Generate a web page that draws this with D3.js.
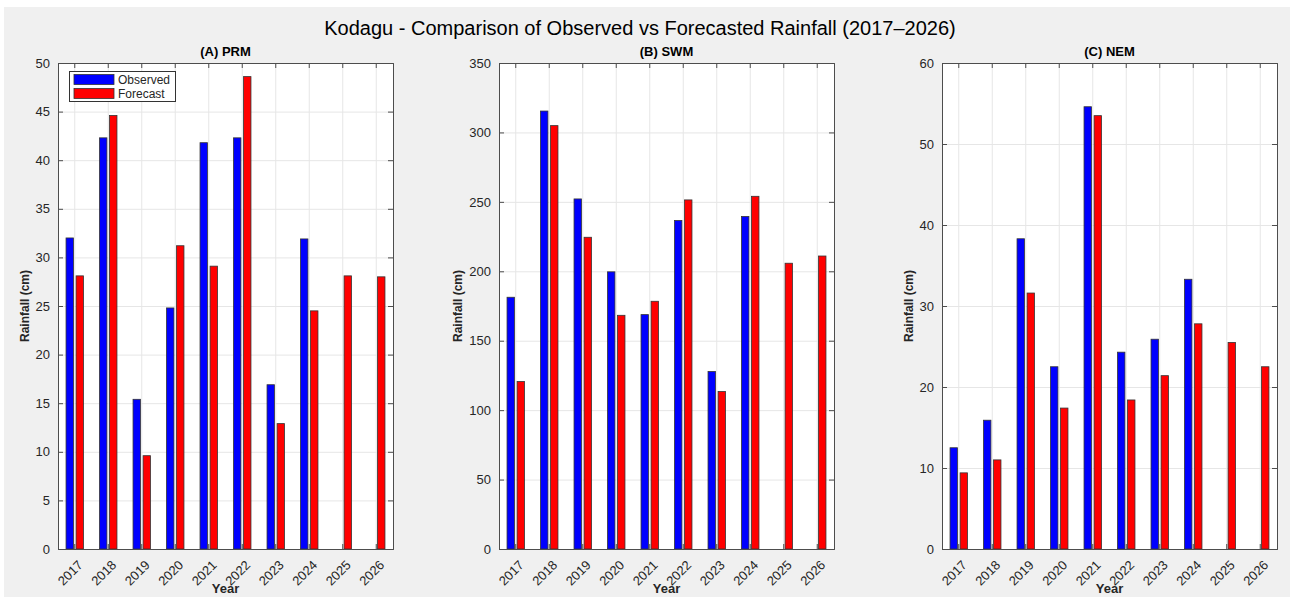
<!DOCTYPE html>
<html><head><meta charset="utf-8">
<script src="https://cdn.jsdelivr.net/npm/d3@7"></script>
<style>body{margin:0;background:#fff;} text{font-family:"Liberation Sans",Arial,sans-serif;}</style>
</head><body>
<svg id="chart" width="1290" height="597"></svg>
<script>
const years = ["2017","2018","2019","2020","2021","2022","2023","2024","2025","2026"];
const prmObserved = [32.0, 42.3, 15.4, 24.8, 41.8, 42.3, 16.9, 31.9, null, null];
const prmForecast = [28.1, 44.6, 9.6, 31.2, 29.1, 48.6, 12.9, 24.5, 28.1, 28.0];
const swmObserved = [181.3, 315.4, 252.1, 199.6, 168.8, 236.6, 127.8, 239.5, null, null];
const swmForecast = [120.6, 304.9, 224.5, 168.3, 178.4, 251.4, 113.4, 254.0, 205.8, 211.0];
const nemObserved = [12.5, 15.9, 38.3, 22.5, 54.6, 24.3, 25.9, 33.3, null, null];
const nemForecast = [9.4, 11.0, 31.6, 17.4, 53.5, 18.4, 21.4, 27.8, 25.5, 22.5];
const prmTicks = [0,5,10,15,20,25,30,35,40,45,50];
const swmTicks = [0,50,100,150,200,250,300,350];
const nemTicks = [0,10,20,30,40,50,60];
const seriesNames = ["Observed","Forecast"];
const seriesColors = ["#0000ff","#ff0000"];

const svg = d3.select("#chart");
svg.append("rect").attr("x",4).attr("y",7).attr("width",1286).attr("height",590).attr("fill","#f0f0f0");
svg.append("text").attr("x",640).attr("y",35).attr("text-anchor","middle")
  .attr("font-size",20).attr("fill","#000")
  .text("Kodagu - Comparison of Observed vs Forecasted Rainfall (2017\u20132026)");

const panels = [
  {title:"(A) PRM", left:58, right:393, obs:prmObserved, fc:prmForecast, ticks:prmTicks, legend:true},
  {title:"(B) SWM", left:499, right:834, obs:swmObserved, fc:swmForecast, ticks:swmTicks, legend:false},
  {title:"(C) NEM", left:942, right:1277, obs:nemObserved, fc:nemForecast, ticks:nemTicks, legend:false}
];
const plotTop = 63, plotBottom = 549;
const axisCol = "#4d4d4d", textCol = "#262626";

panels.forEach(p => {
  const g = svg.append("g");
  const x = d3.scaleBand().domain(years).range([p.left, p.right]).padding(0);
  const ymax = p.ticks[p.ticks.length-1];
  const y = d3.scaleLinear().domain([0, ymax]).range([plotBottom, plotTop]);
  const bw = x.bandwidth();
  g.append("rect").attr("x",p.left).attr("y",plotTop).attr("width",p.right-p.left).attr("height",plotBottom-plotTop).attr("fill","#fff");
  g.selectAll(".gy").data(p.ticks).enter().append("line")
    .attr("x1",p.left).attr("x2",p.right).attr("y1",d=>y(d)+0.5).attr("y2",d=>y(d)+0.5)
    .attr("stroke","#e6e6e6").attr("stroke-width",1);
  g.selectAll(".gx").data(years).enter().append("line")
    .attr("x1",d=>x(d)+bw/2).attr("x2",d=>x(d)+bw/2).attr("y1",plotTop).attr("y2",plotBottom)
    .attr("stroke","#e6e6e6").attr("stroke-width",1);
  [p.obs, p.fc].forEach((vals, si) => {
    const off = (si===0 ? -0.15 : 0.15) * bw;
    const w = 0.22 * bw;
    g.selectAll(".b"+si).data(years.map((yr,i)=>({yr, v:vals[i]})).filter(d=>d.v!=null))
      .enter().append("rect")
      .attr("x", d => x(d.yr)+bw/2+off-w/2)
      .attr("y", d => y(d.v))
      .attr("width", w)
      .attr("height", d => y(0)-y(d.v))
      .attr("fill", seriesColors[si]).attr("stroke","#333").attr("stroke-width",0.8);
  });
  const yAxis = d3.axisLeft(y).tickValues(p.ticks).tickSize(-5).tickPadding(8);
  const ya = g.append("g").attr("transform",`translate(${p.left},0)`).call(yAxis);
  const yr = g.append("g").attr("transform",`translate(${p.right},0)`).call(d3.axisRight(y).tickValues(p.ticks).tickSize(-5).tickFormat(""));
  const xa = g.append("g").attr("transform",`translate(0,${plotBottom})`).call(d3.axisBottom(x).tickSize(-5).tickPadding(8));
  const xt = g.append("g").attr("transform",`translate(0,${plotTop})`).call(d3.axisTop(x).tickSize(-5).tickFormat(""));
  [ya,yr,xa,xt].forEach(a => {
    a.select(".domain").attr("stroke",axisCol);
    a.selectAll(".tick line").attr("stroke",axisCol);
    a.selectAll("text").attr("fill",textCol).attr("font-size",13).attr("font-family","Liberation Sans, Arial, sans-serif");
  });
  xa.selectAll(".tick text").attr("text-anchor","end").attr("dy","0.35em")
    .attr("transform","translate(0,8) rotate(-45)");
  let maxW = 0;
  ya.selectAll(".tick text").each(function(){ maxW = Math.max(maxW, this.getBBox().width); });
  g.append("text").attr("x",(p.left+p.right)/2).attr("y",56).attr("text-anchor","middle")
    .attr("font-size",13).attr("font-weight","bold").attr("fill","#000").text(p.title);
  g.append("text").attr("x",(p.left+p.right)/2).attr("y",593).attr("text-anchor","middle")
    .attr("font-size",13).attr("font-weight","bold").attr("fill",textCol).text("Year");
  g.append("text").attr("transform",`translate(${p.left-maxW-15},${(plotTop+plotBottom)/2}) rotate(-90)`)
    .attr("text-anchor","middle").attr("font-size",12).attr("font-weight","bold").attr("fill",textCol).text("Rainfall (cm)");
  if (p.legend) {
    const lg = g.append("g");
    lg.append("rect").attr("x",69.5).attr("y",71.5).attr("width",106).attr("height",30).attr("fill","#fff").attr("stroke","#333").attr("stroke-width",1);
    seriesNames.forEach((n,i) => {
      lg.append("rect").attr("x",74).attr("y",74.5+i*14).attr("width",40).attr("height",10)
        .attr("fill",seriesColors[i]).attr("stroke","#333").attr("stroke-width",0.8);
      lg.append("text").attr("x",118).attr("y",84+i*14).attr("font-size",12).attr("fill",textCol).text(n);
    });
  }
});
</script>
</body></html>
